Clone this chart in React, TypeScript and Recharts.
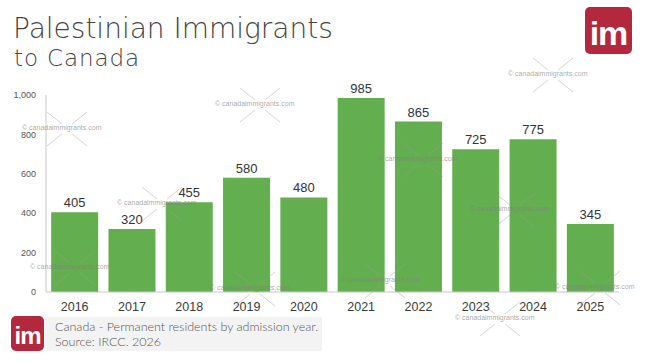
import React from "react";
import { BarChart, Bar, XAxis, YAxis, LabelList } from "recharts";

const years = ["2016", "2017", "2018", "2019", "2020", "2021", "2022", "2023", "2024", "2025"];
const residents = [405, 320, 455, 580, 480, 985, 865, 725, 775, 345];
const yTicks = [0, 200, 400, 600, 800, 1000];

const data = years.map((y, i) => ({ year: y, value: residents[i] }));

const watermarks = [
  { x: 22, y: 124 },
  { x: 215, y: 100 },
  { x: 117, y: 199 },
  { x: 378, y: 155 },
  { x: 470, y: 205 },
  { x: 508, y: 70 },
  { x: 30, y: 263 },
  { x: 210, y: 284 },
  { x: 340, y: 276 },
  { x: 555, y: 283 },
  { x: 455, y: 314 },
];

const Logo = ({ x, y, w, h, fs }: { x: number; y: number; w: number; h: number; fs: number }) => (
  <div
    style={{
      position: "absolute",
      left: x,
      top: y,
      width: w,
      height: h,
      background: "#b3283d",
      borderRadius: 5,
      color: "#fff",
      fontFamily: "Liberation Sans, Arial, sans-serif",
      fontWeight: 700,
      fontSize: fs,
      display: "flex",
      alignItems: "center",
      justifyContent: "center",
      letterSpacing: -1,
      lineHeight: 1,
      paddingTop: 4,
      boxSizing: "border-box",
    }}
  >
    im
  </div>
);

export default function App() {
  return (
    <div style={{ position: "absolute", left: 0, top: 0, width: 645, height: 363, background: "#fff", overflow: "hidden" }}>
      <div
        style={{
          position: "absolute",
          left: 13,
          top: 12,
          fontFamily: "'DejaVu Sans', Lato, sans-serif",
          fontWeight: 200,
          fontSize: 28,
          color: "#444",
          lineHeight: "34px",
          whiteSpace: "nowrap",
        }}
      >
        Palestinian Immigrants
      </div>
      <div
        style={{
          position: "absolute",
          left: 14,
          top: 45,
          fontFamily: "'DejaVu Sans', Lato, sans-serif",
          fontWeight: 200,
          fontSize: 23,
          color: "#444",
          letterSpacing: 0.9,
          lineHeight: "26px",
        }}
      >
        to Canada
      </div>
      <Logo x={585} y={7} w={47} h={47} fs={34} />

      <div style={{ position: "absolute", left: 0, top: 0 }}>
        <BarChart
          width={645}
          height={363}
          data={data}
          margin={{ top: 95, right: 26, bottom: 41, left: 6 }}
          barCategoryGap="9%"
        >
          <XAxis
            dataKey="year"
            height={30}
            tickLine={false}
            axisLine={{ stroke: "#c8c8c8" }}
            tick={{ fill: "#3a3a3a", fontSize: 12.5, fontFamily: "Liberation Sans, Arial, sans-serif" }}
            tickMargin={4}
            interval={0}
          />
          <YAxis
            width={40}
            domain={[0, 1000]}
            ticks={yTicks}
            tickLine={false}
            axisLine={{ stroke: "#c8c8c8" }}
            tick={{ fill: "#555", fontSize: 9, fontFamily: "Liberation Sans, Arial, sans-serif" }}
            tickFormatter={(v: number) => v.toLocaleString("en-US")}
            tickMargin={4}
          />
          <Bar dataKey="value" fill="#63ae4f" isAnimationActive={false}>
            <LabelList
              dataKey="value"
              position="top"
              offset={5}
              style={{ fill: "#333", fontSize: 13, fontFamily: "Liberation Sans, Arial, sans-serif" }}
            />
          </Bar>
        </BarChart>
      </div>

      {watermarks.map((w, i) => (
        <div key={i} style={{ position: "absolute", left: w.x, top: w.y, pointerEvents: "none" }}>
          <svg width={70} height={50} style={{ position: "absolute", left: 10, top: -20 }}>
            <line x1={15} y1={8} x2={30} y2={20} stroke="rgba(160,160,160,0.45)" strokeWidth={1} />
            <line x1={55} y1={8} x2={40} y2={20} stroke="rgba(160,160,160,0.45)" strokeWidth={1} />
            <line x1={15} y1={42} x2={30} y2={30} stroke="rgba(160,160,160,0.45)" strokeWidth={1} />
            <line x1={55} y1={42} x2={40} y2={30} stroke="rgba(160,160,160,0.45)" strokeWidth={1} />
          </svg>
          <div
            style={{
              position: "relative",
              fontFamily: "Liberation Sans, Arial, sans-serif",
              fontSize: 7,
              color: "rgba(130,130,130,0.7)",
              whiteSpace: "nowrap",
            }}
          >
            © canadaimmigrants.com
          </div>
        </div>
      ))}

      <Logo x={11} y={316} w={33} h={35} fs={24} />
      <div
        style={{
          position: "absolute",
          left: 45,
          top: 317,
          width: 277,
          height: 34,
          background: "#f3f3f3",
          fontFamily: "Lato, 'DejaVu Sans', sans-serif",
          fontWeight: 300,
          fontSize: 12.5,
          color: "#555",
          lineHeight: "15px",
          paddingLeft: 10,
          paddingTop: 2,
          boxSizing: "border-box",
          whiteSpace: "nowrap",
        }}
      >
        <div>Canada - Permanent residents by admission year.</div>
        <div>Source: IRCC. 2026</div>
      </div>
    </div>
  );
}
